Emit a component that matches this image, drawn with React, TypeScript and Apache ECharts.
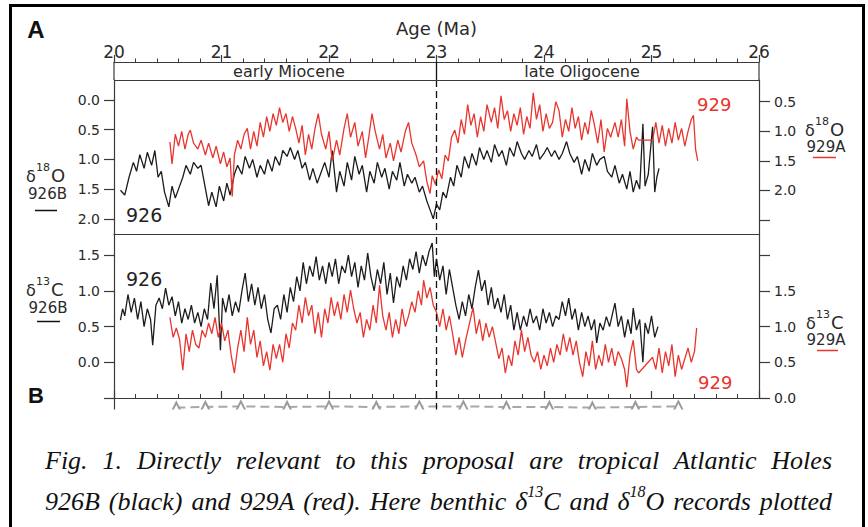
import React, { useEffect, useRef } from "react";
import * as echarts from "echarts";

// ---------------- data (age in Ma, per-mil values) ----------------
// δ18O, Hole 926B (black, left axis of upper panel)
const d18O926: number[][] = [
  [20.06,1.52],[20.10,1.60],[20.14,1.30],[20.18,1.05],[20.21,1.20],[20.24,0.92],[20.28,1.15],[20.31,0.88],[20.35,1.10],[20.38,0.85],
  [20.41,1.30],[20.44,1.20],[20.47,1.55],[20.51,1.80],[20.54,1.45],[20.57,1.65],[20.60,1.50],[20.64,1.30],[20.67,1.10],[20.71,1.25],
  [20.74,1.05],[20.78,1.15],[20.81,1.10],[20.88,1.78],[20.91,1.55],[20.95,1.80],[20.98,1.45],[21.02,1.70],[21.05,1.40],[21.08,1.60],
  [21.12,1.25],[21.15,1.10],[21.19,1.25],[21.22,0.95],[21.26,1.15],[21.29,1.00],[21.33,1.30],[21.36,1.10],[21.40,1.25],[21.43,1.00],
  [21.47,1.20],[21.50,0.95],[21.54,1.10],[21.57,0.85],[21.61,0.95],[21.64,0.80],[21.68,1.00],[21.71,0.85],[21.75,1.15],[21.78,1.05],
  [21.82,1.35],[21.85,1.15],[21.89,1.40],[21.92,1.25],[21.96,1.05],[22.00,1.30],[22.03,0.85],[22.07,1.55],[22.10,1.20],[22.14,1.45],
  [22.17,1.05],[22.21,1.35],[22.24,0.95],[22.28,1.25],[22.31,1.10],[22.35,1.55],[22.38,1.20],[22.42,1.40],[22.45,1.05],[22.49,1.30],
  [22.52,1.15],[22.56,1.50],[22.59,1.20],[22.63,1.35],[22.66,1.05],[22.70,1.45],[22.73,1.25],[22.77,1.40],[22.80,1.30],[22.84,1.55],
  [22.87,1.45],[22.91,1.70],[22.94,1.85],[22.97,2.00],[23.00,1.75],[23.03,1.85],[23.06,1.55],[23.09,1.65],[23.13,1.30],[23.16,1.45],
  [23.19,1.10],[23.23,1.30],[23.26,0.95],[23.30,1.15],[23.33,0.90],[23.37,1.10],[23.40,0.80],[23.44,1.00],[23.47,0.85],[23.51,1.05],
  [23.54,0.75],[23.58,0.95],[23.61,0.85],[23.65,1.10],[23.68,0.80],[23.72,0.95],[23.75,0.70],[23.79,0.90],[23.82,1.00],[23.86,0.85],
  [23.89,0.95],[23.93,0.75],[23.96,1.00],[24.00,0.90],[24.03,0.80],[24.07,0.95],[24.10,0.85],[24.14,1.00],[24.17,0.90],[24.21,0.70],
  [24.24,0.90],[24.28,1.05],[24.31,0.95],[24.35,1.25],[24.38,1.00],[24.42,1.20],[24.45,0.90],[24.49,1.10],[24.52,1.00],[24.56,0.95],
  [24.59,1.20],[24.63,1.30],[24.66,1.10],[24.70,1.40],[24.73,1.25],[24.77,1.50],[24.80,1.20],[24.83,1.55],[24.86,1.35],[24.89,1.50],
  [24.92,0.40],[24.94,1.45],[24.97,1.25],[25.01,0.45],[25.03,1.55],[25.05,1.30],[25.07,1.15],
];

// δ18O, Hole 929A (red, right axis of upper panel)
const d18O929: number[][] = [
  [20.52,1.18],[20.54,1.55],[20.57,1.05],[20.60,1.25],[20.63,1.00],[20.66,1.30],[20.69,1.05],[20.71,0.98],[20.74,1.20],[20.78,1.30],
  [20.81,1.15],[20.85,1.40],[20.88,1.20],[20.92,1.45],[20.95,1.25],[20.99,1.55],[21.02,1.35],[21.05,1.60],[21.08,1.45],[21.10,2.10],
  [21.12,1.40],[21.15,1.15],[21.18,1.30],[21.21,1.05],[21.24,0.95],[21.27,1.30],[21.30,1.00],[21.33,1.25],[21.36,0.85],[21.39,1.10],
  [21.42,0.75],[21.45,1.00],[21.48,0.70],[21.51,0.90],[21.54,0.60],[21.57,0.85],[21.60,0.70],[21.63,1.00],[21.66,0.75],[21.69,0.95],
  [21.72,1.20],[21.75,0.90],[21.78,1.40],[21.81,1.05],[21.84,1.30],[21.87,0.95],[21.90,0.70],[21.93,1.05],[21.97,1.30],[22.00,1.00],
  [22.03,1.50],[22.07,1.15],[22.10,1.40],[22.14,0.95],[22.17,0.70],[22.20,1.10],[22.24,0.85],[22.27,1.25],[22.31,1.00],[22.34,1.45],
  [22.37,1.10],[22.40,0.70],[22.43,1.00],[22.47,1.30],[22.50,1.05],[22.53,1.45],[22.57,1.20],[22.60,1.50],[22.64,1.15],[22.67,1.35],
  [22.71,1.00],[22.74,0.85],[22.77,1.20],[22.81,1.40],[22.84,1.60],[22.88,1.50],[22.91,1.85],[22.94,2.05],[22.96,1.75],[22.99,1.90],
  [23.02,1.65],[23.05,1.80],[23.08,1.40],[23.11,1.50],[23.14,1.10],[23.17,0.98],[23.20,1.20],[23.23,0.80],[23.26,1.05],[23.29,0.55],
  [23.32,0.90],[23.35,0.70],[23.38,1.10],[23.41,0.75],[23.44,1.00],[23.47,0.55],[23.51,0.85],[23.54,0.60],[23.57,0.95],[23.60,0.40],
  [23.63,0.80],[23.66,0.65],[23.69,1.00],[23.72,0.70],[23.75,0.90],[23.78,0.60],[23.81,1.05],[23.84,0.75],[23.87,0.95],[23.90,0.35],
  [23.93,0.80],[23.96,0.55],[23.99,1.00],[24.02,0.70],[24.05,0.95],[24.08,0.85],[24.11,0.50],[24.14,0.65],[24.17,1.10],[24.20,0.80],
  [24.23,1.00],[24.26,0.60],[24.29,0.95],[24.32,0.75],[24.35,1.15],[24.38,0.85],[24.41,1.05],[24.44,0.65],[24.47,0.90],[24.50,1.20],
  [24.53,0.80],[24.56,1.35],[24.59,0.95],[24.62,1.10],[24.66,0.85],[24.69,1.10],[24.72,0.80],[24.75,1.25],[24.77,0.45],[24.80,1.00],
  [24.83,1.30],[24.86,1.10],[24.88,1.15],[25.01,1.15],[25.04,0.85],[25.07,1.20],[25.10,0.90],[25.13,1.25],[25.16,0.95],[25.19,1.20],
  [25.22,0.85],[25.25,1.15],[25.28,0.95],[25.31,1.25],[25.34,1.00],[25.37,0.80],[25.39,0.73],[25.41,1.30],[25.43,1.50],
];

// δ13C, Hole 926B (black, left axis of lower panel)
const d13C926: number[][] = [
  [20.06,0.59],[20.08,0.75],[20.10,0.65],[20.13,0.95],[20.16,0.70],[20.19,0.90],[20.22,0.60],[20.25,0.85],[20.28,0.50],[20.31,0.75],
  [20.34,0.60],[20.36,0.24],[20.39,0.80],[20.42,0.90],[20.45,0.75],[20.48,1.04],[20.51,0.80],[20.54,0.92],[20.57,0.65],[20.60,0.85],
  [20.63,0.55],[20.66,0.75],[20.69,0.60],[20.72,0.80],[20.75,0.55],[20.78,0.70],[20.81,0.50],[20.84,0.75],[20.87,0.60],[20.90,1.11],
  [20.93,0.75],[20.96,1.22],[20.99,0.17],[21.01,0.90],[21.04,0.70],[21.07,0.95],[21.10,0.65],[21.13,0.85],[21.16,0.70],[21.19,1.00],
  [21.22,1.25],[21.25,0.85],[21.28,1.10],[21.31,0.80],[21.34,1.05],[21.37,0.75],[21.40,0.95],[21.43,0.60],[21.46,0.41],[21.49,0.75],
  [21.52,0.80],[21.55,0.60],[21.58,0.95],[21.61,0.70],[21.64,1.05],[21.67,0.85],[21.70,1.20],[21.73,1.00],[21.76,1.40],[21.79,1.10],
  [21.82,1.35],[21.85,1.20],[21.88,1.48],[21.91,1.15],[21.94,1.35],[21.97,1.10],[22.00,1.40],[22.03,1.20],[22.06,1.45],[22.09,1.10],
  [22.12,1.35],[22.15,1.25],[22.18,1.50],[22.21,1.20],[22.24,1.40],[22.27,1.05],[22.30,1.35],[22.33,1.15],[22.36,1.53],[22.39,1.20],
  [22.42,1.00],[22.45,1.30],[22.48,1.10],[22.51,1.40],[22.54,0.95],[22.57,1.25],[22.60,0.83],[22.63,1.20],[22.66,1.05],[22.69,1.35],
  [22.72,1.15],[22.75,1.45],[22.78,1.30],[22.81,1.55],[22.84,1.25],[22.87,1.50],[22.90,1.35],[22.93,1.55],[22.96,1.67],[22.98,1.20],
  [23.00,1.45],[23.03,1.15],[23.06,1.35],[23.09,0.95],[23.12,1.30],[23.15,1.05],[23.18,0.80],[23.21,0.60],[23.24,0.85],[23.27,0.65],
  [23.30,0.95],[23.33,0.75],[23.36,1.05],[23.39,1.29],[23.42,1.00],[23.45,1.15],[23.48,0.80],[23.51,1.05],[23.54,0.75],[23.57,0.90],
  [23.60,0.70],[23.63,0.95],[23.66,0.60],[23.69,0.80],[23.72,0.45],[23.75,0.70],[23.78,0.45],[23.81,0.65],[23.84,0.50],[23.87,0.75],
  [23.90,0.55],[23.93,0.65],[23.96,0.45],[23.99,0.75],[24.02,0.55],[24.05,0.70],[24.08,0.50],[24.11,0.65],[24.14,0.60],[24.17,0.85],
  [24.20,0.65],[24.23,0.90],[24.26,0.60],[24.29,0.75],[24.32,0.45],[24.35,0.70],[24.38,0.50],[24.41,0.65],[24.44,0.45],[24.47,0.60],
  [24.49,0.27],[24.52,0.55],[24.55,0.45],[24.58,0.64],[24.61,0.50],[24.64,0.70],[24.66,0.83],[24.69,0.50],[24.72,0.65],[24.75,0.35],
  [24.78,0.60],[24.81,0.40],[24.83,0.76],[24.86,0.45],[24.89,0.60],[24.92,0.00],[24.94,0.55],[24.97,0.40],[25.00,0.65],[25.03,0.35],
  [25.06,0.50],
];

// δ13C, Hole 929A (red, right axis of lower panel)
const d13C929: number[][] = [
  [20.52,1.13],[20.55,0.85],[20.58,0.98],[20.61,0.82],[20.64,0.39],[20.67,0.90],[20.70,0.65],[20.73,0.95],[20.76,0.75],[20.79,0.70],
  [20.82,0.95],[20.85,0.85],[20.88,1.05],[20.91,0.90],[20.94,1.13],[20.97,0.85],[21.00,1.05],[21.03,0.80],[21.06,0.95],[21.09,0.60],
  [21.12,0.35],[21.15,0.70],[21.18,0.95],[21.21,0.65],[21.24,1.13],[21.27,0.75],[21.30,0.95],[21.33,0.57],[21.36,0.80],[21.39,0.45],
  [21.42,0.65],[21.45,0.39],[21.48,0.75],[21.51,0.55],[21.54,0.75],[21.57,0.50],[21.60,0.90],[21.63,0.70],[21.66,1.05],[21.69,0.95],
  [21.72,1.30],[21.75,1.05],[21.78,1.41],[21.81,1.15],[21.84,1.30],[21.87,0.90],[21.90,1.20],[21.93,0.85],[21.96,1.25],[21.99,1.05],
  [22.02,1.41],[22.05,1.15],[22.08,1.35],[22.11,1.10],[22.14,1.45],[22.17,1.20],[22.20,1.51],[22.23,1.25],[22.26,1.05],[22.29,1.20],
  [22.32,0.85],[22.35,1.10],[22.38,0.95],[22.41,1.30],[22.44,1.05],[22.47,1.58],[22.50,1.15],[22.53,0.95],[22.56,1.20],[22.59,0.85],
  [22.62,1.10],[22.65,0.90],[22.68,1.25],[22.71,1.00],[22.74,1.15],[22.77,1.35],[22.80,1.20],[22.83,1.50],[22.86,1.30],[22.88,1.65],
  [22.91,1.40],[22.94,1.55],[22.97,1.30],[23.00,1.20],[23.03,1.00],[23.06,1.25],[23.09,0.95],[23.12,1.15],[23.15,0.90],[23.18,0.60],
  [23.21,0.85],[23.24,0.57],[23.27,0.80],[23.30,1.00],[23.34,1.27],[23.37,0.90],[23.40,1.10],[23.43,0.80],[23.46,1.05],[23.49,0.85],
  [23.52,1.00],[23.55,0.78],[23.58,0.55],[23.61,0.70],[23.64,0.35],[23.67,0.60],[23.70,0.45],[23.73,0.80],[23.76,0.60],[23.79,0.95],
  [23.82,0.65],[23.85,0.85],[23.88,0.60],[23.91,0.50],[23.94,0.65],[23.97,0.40],[24.00,0.60],[24.03,0.45],[24.06,0.70],[24.09,0.50],
  [24.12,0.75],[24.15,0.60],[24.18,0.90],[24.21,0.65],[24.24,0.85],[24.27,0.60],[24.30,0.80],[24.33,0.50],[24.36,0.30],[24.39,0.65],
  [24.42,0.45],[24.45,0.80],[24.48,0.40],[24.51,0.60],[24.54,0.45],[24.57,0.75],[24.60,0.50],[24.63,0.70],[24.66,0.45],[24.69,0.65],
  [24.72,0.55],[24.75,0.40],[24.77,0.15],[24.80,0.60],[24.83,0.81],[24.86,0.40],[24.88,0.35],[25.01,0.57],[25.04,0.40],[25.07,0.70],
  [25.10,0.35],[25.13,0.65],[25.16,0.45],[25.19,0.75],[25.22,0.30],[25.25,0.60],[25.28,0.40],[25.31,0.55],[25.34,0.70],[25.37,0.50],
  [25.40,0.65],[25.42,0.98],
];

// partially visible record of panel B (cut off at the bottom of the figure)
const panelB: number[][] = [
  [20.58,0.20],[20.85,0.25],[21.18,0.30],[21.61,0.25],[22.00,0.30],[22.44,0.25],[22.84,0.30],
  [23.25,0.30],[23.65,0.25],[24.05,0.25],[24.45,0.20],[24.85,0.25],[25.25,0.30],
];

// axis ticks and labels
const epochBoundary = 23;
const topLeftTicks = [0, 0.5, 1.0, 1.5, 2.0];
const topRightTicks = [0.5, 1.0, 1.5, 2.0, 2.5];
const topRightLabels = [0.5, 1.0, 1.5, 2.0];
const botLeftTicks = [-0.5, 0, 0.5, 1.0, 1.5];
const botLeftLabels = [0, 0.5, 1.0, 1.5];
const botRightTicks = [0, 0.5, 1.0, 1.5, 2.0];
const botRightLabels = [0, 0.5, 1.0, 1.5];

const captionLine1 = ["Fig.", "1.", "Directly", "relevant", "to", "this", "proposal", "are", "tropical", "Atlantic", "Holes"];
const captionLine2 = ["926B", "(black)", "and", "929A", "(red).", "Here", "benthic", "δ^13^C", "and", "δ^18^O", "records", "plotted"];

// ---------------- styling ----------------
const SANS = "'DejaVu Sans', Verdana, sans-serif";
const RED = "#e8352e";
const BLACK = "#1c1c1c";
const AXIS = "#3a3a3a";
const LABEL = "#2a2a2a";

function txt(text: string, x: number, y: number, size: number, o: any = {}) {
  return {
    type: "text",
    x,
    y,
    z: 50,
    style: {
      text,
      fontSize: size,
      fontFamily: o.family || SANS,
      fontWeight: o.weight || "normal",
      fill: o.color || LABEL,
      align: o.align || "left",
      verticalAlign: "middle",
    },
  };
}

function hline(x1: number, x2: number, y: number, color: string, w: number) {
  return { type: "line", z: 50, shape: { x1, y1: y, x2, y2: y }, style: { stroke: color, lineWidth: w } };
}
function vline(x: number, y1: number, y2: number, color: string, w: number) {
  return { type: "line", z: 50, shape: { x1: x, y1, x2: x, y2 }, style: { stroke: color, lineWidth: w } };
}

function captionElements(): any[] {
  const cv = document.createElement("canvas");
  const ctx = cv.getContext("2d") as CanvasRenderingContext2D;
  const mainFont = "italic 26px 'Liberation Serif', 'Times New Roman', serif";
  const supFont = "italic 16px 'Liberation Serif', 'Times New Roman', serif";
  const x0 = 45;
  const x1 = 832;
  const els: any[] = [];
  const measure = (t: string, sup: boolean) => {
    ctx.font = sup ? supFont : mainFont;
    return ctx.measureText(t).width;
  };
  const lay = (words: string[], y: number) => {
    const toks = words.map((w) => w.split("^").map((t, i) => ({ t, sup: i % 2 === 1 })));
    const widths = toks.map((segs) => segs.reduce((s, g) => s + measure(g.t, g.sup), 0));
    const total = widths.reduce((a, b) => a + b, 0);
    const gap = (x1 - x0 - total) / (toks.length - 1);
    let x = x0;
    toks.forEach((segs, i) => {
      let cx = x;
      segs.forEach((g) => {
        els.push({
          type: "text",
          x: cx,
          y: g.sup ? y - 10 : y,
          z: 50,
          style: { text: g.t, font: g.sup ? supFont : mainFont, fill: "#111", align: "left", verticalAlign: "middle" },
        });
        cx += measure(g.t, g.sup);
      });
      x += widths[i] + gap;
    });
  };
  lay(captionLine1, 460);
  lay(captionLine2, 501);
  return els;
}

function buildOption(): any {
  const axisLine = { show: true, onZero: false, lineStyle: { color: AXIS, width: 1.2 } };
  const fmt = (v: number) => v.toFixed(1);
  const yLabel = { fontSize: 14, color: LABEL, fontFamily: SANS, formatter: fmt };
  const dashed = {
    symbol: ["none", "none"],
    silent: true,
    label: { show: false },
    lineStyle: { type: [7, 4], color: "#111", width: 1.3 },
    data: [{ xAxis: epochBoundary }],
  };

  const graphics: any[] = [
    // outer frame
    hline(9, 865, 5.5, "#000", 3),
    vline(10.5, 4, 527, "#000", 3),
    vline(863.5, 4, 527, "#000", 3),
    // epoch band
    hline(114, 759, 80.5, AXIS, 1.2),
    vline(114, 62, 80, AXIS, 1.2),
    vline(759, 62, 80, AXIS, 1.2),
    vline(436.5, 62, 80, "#111", 1.3),
    txt("early Miocene", 289, 71, 16, { align: "center" }),
    txt("late Oligocene", 582, 71, 16, { align: "center" }),
    // panel letters
    txt("A", 36, 29, 24, { align: "center", weight: "bold", family: "'Liberation Sans', Arial, sans-serif", color: "#111" }),
    txt("B", 36, 395, 22, { align: "center", weight: "bold", family: "'Liberation Sans', Arial, sans-serif", color: "#111" }),
    // site labels
    txt("926", 126, 215, 19, { color: "#222" }),
    txt("926", 126, 279, 19, { color: "#222" }),
    txt("929", 697, 104, 18, { color: RED }),
    txt("929", 698, 382, 18, { color: RED }),
    // left upper axis title
    txt("δ", 26, 176, 16),
    txt("18", 36, 167, 11),
    txt("O", 51, 175, 18),
    txt("926B", 47.5, 194, 15, { align: "center" }),
    hline(35, 57, 210.5, "#111", 1.5),
    // left lower axis title
    txt("δ", 26, 290, 16),
    txt("13", 36, 281, 11),
    txt("C", 51, 289, 18),
    txt("926B", 48, 308, 15, { align: "center" }),
    hline(37, 60, 321.5, "#111", 1.5),
    // right upper axis title
    txt("δ", 805, 130, 16),
    txt("18", 815, 121, 11),
    txt("O", 830, 129, 18),
    txt("929A", 826, 147, 15, { align: "center" }),
    hline(813, 836, 157.5, RED, 1.5),
    // right lower axis title
    txt("δ", 806, 323, 16),
    txt("13", 816, 314, 11),
    txt("C", 831, 322, 18),
    txt("929A", 826, 340, 15, { align: "center" }),
    hline(817, 838, 350.5, RED, 1.5),
    // crop of panel B
    { type: "rect", z: 100, shape: { x: 12, y: 409.5, width: 849, height: 25 }, style: { fill: "#fff" } },
    ...captionElements(),
  ];

  return {
    animation: false,
    backgroundColor: "#fff",
    textStyle: { fontFamily: SANS },
    grid: [
      { left: 114, top: 80, width: 645, height: 154 },
      { left: 114, top: 234, width: 645, height: 164 },
      { left: 114, top: 398, width: 645, height: 12 },
    ],
    xAxis: [
      {
        gridIndex: 0, type: "value", min: 20, max: 26, interval: 1, position: "top", offset: 18,
        axisLine,
        axisTick: { show: true, length: 7, lineStyle: { color: AXIS, width: 1.2 } },
        minorTick: { show: true, splitNumber: 5, length: 3.5, lineStyle: { color: AXIS, width: 1 } },
        axisLabel: { fontSize: 17, margin: 2, color: LABEL, fontFamily: SANS },
        splitLine: { show: false },
        name: "Age (Ma)", nameLocation: "middle", nameGap: 25,
        nameTextStyle: { fontSize: 18, color: LABEL, fontFamily: SANS },
      },
      {
        gridIndex: 0, type: "value", min: 20, max: 26, position: "bottom",
        axisLine, axisTick: { show: false }, axisLabel: { show: false }, splitLine: { show: false },
      },
      {
        gridIndex: 1, type: "value", min: 20, max: 26, interval: 1, position: "bottom",
        axisLine,
        axisTick: { show: true, inside: true, length: 7, lineStyle: { color: AXIS, width: 1.2 } },
        minorTick: { show: true, splitNumber: 5, length: 4, lineStyle: { color: AXIS, width: 1 } },
        axisLabel: { show: false }, splitLine: { show: false },
      },
      { gridIndex: 2, type: "value", min: 20, max: 26, show: false },
    ],
    yAxis: [
      {
        gridIndex: 0, type: "value", position: "left", inverse: true, min: -0.337, max: 2.256,
        axisLine, splitLine: { show: false },
        axisTick: { show: true, length: 10, customValues: topLeftTicks, lineStyle: { color: AXIS, width: 1.2 } },
        axisLabel: { ...yLabel, margin: 14, customValues: topLeftTicks },
      },
      {
        gridIndex: 0, type: "value", position: "right", inverse: true, min: 0.133, max: 2.735,
        axisLine, splitLine: { show: false },
        axisTick: { show: true, length: 11, customValues: topRightTicks, lineStyle: { color: AXIS, width: 1.2 } },
        axisLabel: { ...yLabel, margin: 15, customValues: topRightLabels },
      },
      {
        gridIndex: 1, type: "value", position: "left", min: -0.5, max: 1.797,
        axisLine, splitLine: { show: false },
        axisTick: { show: true, length: 10, customValues: botLeftTicks, lineStyle: { color: AXIS, width: 1.2 } },
        axisLabel: { ...yLabel, margin: 14, customValues: botLeftLabels },
      },
      {
        gridIndex: 1, type: "value", position: "right", min: 0, max: 2.297,
        axisLine, splitLine: { show: false },
        axisTick: { show: true, length: 11, customValues: botRightTicks, lineStyle: { color: AXIS, width: 1.2 } },
        axisLabel: { ...yLabel, margin: 15, customValues: botRightLabels },
      },
      {
        gridIndex: 2, type: "value", position: "left", min: 0, max: 1,
        axisLine, axisTick: { show: false }, axisLabel: { show: false }, splitLine: { show: false },
      },
    ],
    series: [
      {
        name: "δ18O 926B", type: "line", xAxisIndex: 0, yAxisIndex: 0, data: d18O926,
        showSymbol: false, symbol: "none", lineStyle: { color: BLACK, width: 1.3 }, markLine: dashed, z: 3,
      },
      {
        name: "δ18O 929A", type: "line", xAxisIndex: 0, yAxisIndex: 1, data: d18O929,
        showSymbol: false, symbol: "none", lineStyle: { color: RED, width: 1.3 }, z: 4,
      },
      {
        name: "δ13C 926B", type: "line", xAxisIndex: 2, yAxisIndex: 2, data: d13C926,
        showSymbol: false, symbol: "none", lineStyle: { color: BLACK, width: 1.3 }, markLine: dashed, z: 3,
      },
      {
        name: "δ13C 929A", type: "line", xAxisIndex: 2, yAxisIndex: 3, data: d13C929,
        showSymbol: false, symbol: "none", lineStyle: { color: RED, width: 1.3 }, z: 4,
      },
      {
        name: "B", type: "line", xAxisIndex: 3, yAxisIndex: 4, data: panelB,
        symbol: "emptyTriangle", symbolSize: 10, showSymbol: true, clip: false,
        itemStyle: { color: "#9a9a9a", borderWidth: 1.2 },
        lineStyle: { color: "#a8a8a8", width: 2, type: [9, 5] },
        markLine: dashed, z: 2,
      },
    ],
    graphic: { elements: graphics },
  };
}

export default function App() {
  const ref = useRef<HTMLDivElement>(null);
  useEffect(() => {
    if (!ref.current) return;
    const chart = echarts.init(ref.current, undefined, { renderer: "svg" });
    chart.setOption(buildOption());
    return () => chart.dispose();
  }, []);
  return (
    <div
      ref={ref}
      style={{ position: "absolute", left: 0, top: 0, width: 868, height: 527, background: "#fff" }}
    />
  );
}
